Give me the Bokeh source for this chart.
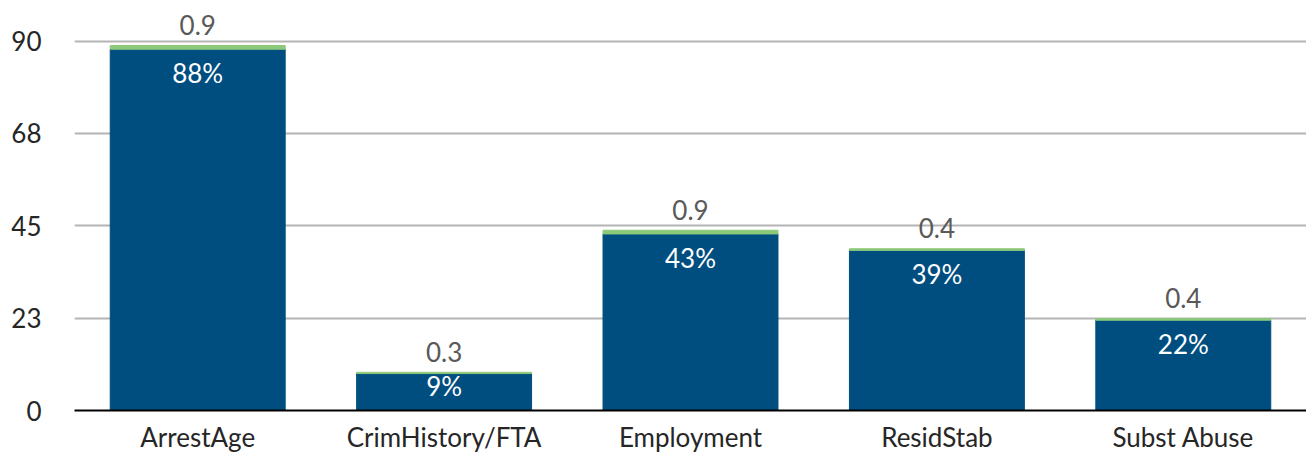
from bokeh.plotting import figure
from bokeh.models import ColumnDataSource, FactorRange, Range1d, FixedTicker
from bokeh.core.properties import value
from bokeh.embed import file_html
from bokeh.resources import INLINE

categories = ["ArrestAge", "CrimHistory/FTA", "Employment", "ResidStab", "Subst Abuse"]
main_vals = [88, 9, 43, 39, 22]
extra_vals = [0.9, 0.3, 0.9, 0.4, 0.4]
main_labels = ["88%", "9%", "43%", "39%", "22%"]
extra_labels = ["0.9", "0.3", "0.9", "0.4", "0.4"]
tick_vals = [0, 22.5, 45, 67.5, 90]
tick_labels = ["0", "23", "45", "68", "90"]

W, H = 1306, 455
left, bottom = 74, 40
frame_h = H - bottom
top_pad = 41
ppu = (frame_h - top_pad) / 90.0
y_end = 90 + top_pad / ppu

FONT = "Lato"
FS = "26px"
BLUE = "#004e7f"
GREEN = "#8cc97a"

p = figure(width=W, height=H, x_range=FactorRange(*categories, range_padding=0),
           y_range=Range1d(0, y_end), output_backend="svg", toolbar_location=None,
           min_border_left=left, min_border_right=0, min_border_top=0,
           min_border_bottom=bottom)
p.outline_line_color = None
p.background_fill_color = "white"

totals = [m + e for m, e in zip(main_vals, extra_vals)]
src = ColumnDataSource(dict(cat=categories, main=main_vals, extra=extra_vals, total=totals,
                            mlab=main_labels, elab=extra_labels,
                            my=[m - min(24.0, m * ppu * 0.34) / ppu for m in main_vals],
                            ey=[t + 21.0 / ppu for t in totals]))

p.vbar(x="cat", top="main", bottom=0, width=0.71, color=BLUE, source=src)
p.vbar(x="cat", top="total", bottom="main", width=0.71, color=GREEN, source=src)

p.text(x="cat", y="my", text="mlab", source=src, text_align="center", text_baseline="middle",
       text_color="white", text_font=value(FONT), text_font_size=FS)
p.text(x="cat", y="ey", text="elab", source=src, text_align="center", text_baseline="middle",
       text_color="#595959", text_font=value(FONT), text_font_size=FS)

# y axis
p.yaxis.ticker = FixedTicker(ticks=tick_vals)
p.yaxis.major_label_overrides = {v: l for v, l in zip(tick_vals, tick_labels)}
p.yaxis.axis_line_color = None
p.yaxis.major_tick_line_color = None
p.yaxis.minor_tick_line_color = None
p.yaxis.major_tick_out = 0
p.yaxis.major_label_standoff = 33
p.yaxis.major_label_text_font = FONT
p.yaxis.major_label_text_font_size = FS
p.yaxis.major_label_text_color = "#262626"

p.ygrid.ticker = FixedTicker(ticks=tick_vals[1:])
p.ygrid.grid_line_color = "#b4b4b4"
p.ygrid.grid_line_width = 2
p.xgrid.grid_line_color = None

# x axis
p.xaxis.axis_line_color = "black"
p.xaxis.axis_line_width = 2
p.xaxis.major_tick_line_color = None
p.xaxis.minor_tick_line_color = None
p.xaxis.major_tick_out = 0
p.xaxis.major_label_standoff = 10
p.xaxis.major_label_text_font = FONT
p.xaxis.major_label_text_font_size = FS
p.xaxis.major_label_text_color = "#262626"

open("out.html", "w").write(file_html(p, INLINE))
